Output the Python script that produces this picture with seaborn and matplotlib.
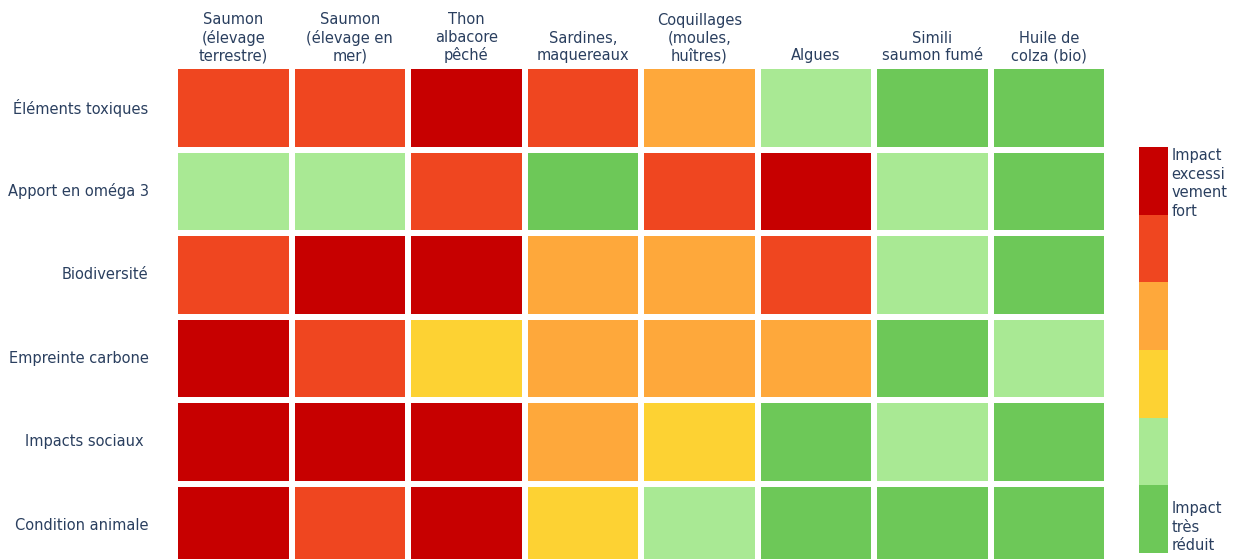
import numpy as np
import pandas as pd
import matplotlib
matplotlib.use('Agg')
import matplotlib.pyplot as plt
import seaborn as sns
from matplotlib.colors import ListedColormap, BoundaryNorm

# données (1 = impact très réduit ... 6 = excessivement fort)
produits = ['Saumon\n(élevage\nterrestre)', 'Saumon\n(élevage en\nmer)', 'Thon\nalbacore\npêché',
            'Sardines,\nmaquereaux', 'Coquillages\n(moules,\nhuîtres)', 'Algues',
            'Simili\nsaumon fumé', 'Huile de\ncolza (bio)']
criteres = ['Éléments toxiques', 'Apport en oméga 3', 'Biodiversité',
            'Empreinte carbone', 'Impacts sociaux ', 'Condition animale']

toxiques = [5, 5, 6, 5, 4, 2, 1, 1]
omega3 = [2, 2, 5, 1, 5, 6, 2, 1]
biodiversite = [5, 6, 6, 4, 4, 5, 2, 1]
carbone = [6, 5, 3, 4, 4, 4, 1, 2]
sociaux = [6, 6, 6, 4, 3, 1, 2, 1]
animale = [6, 5, 6, 3, 2, 1, 1, 1]

couleurs = ['#6dc858', '#a9e994', '#fdd233', '#fea83b', '#ef4620', '#c70000']
txt = '#2a3f5f'

df = pd.DataFrame([toxiques, omega3, biodiversite, carbone, sociaux, animale],
                  index=criteres, columns=produits)

cmap = ListedColormap(couleurs)
norm = BoundaryNorm(np.arange(0.5, 7.5, 1), cmap.N)

W, H = 1237, 559
fig = plt.figure(figsize=(W / 100, H / 100), dpi=100)
ax = fig.add_axes([175 / W, 1 - 567 / H, (1107 - 175) / W, (567 - 66) / H])
cax = fig.add_axes([1139 / W, 1 - 553 / H, 29 / W, (553 - 147) / H])

sns.heatmap(df, ax=ax, cmap=cmap, norm=norm, linewidths=3, linecolor='white',
            cbar_ax=cax)

ax.xaxis.tick_top()
ax.tick_params(length=0, labelsize=10.5, colors=txt, pad=2)
ax.set_xticklabels(produits, rotation=0, ha='center', va='bottom', color=txt, linespacing=1.2)
ax.set_yticklabels(criteres, rotation=0, color=txt)
ax.tick_params(axis='y', pad=19)
ax.set_xlabel('')
ax.set_ylabel('')

cbar = ax.collections[0].colorbar
cbar.outline.set_visible(False)
cbar.set_ticks([])
cbar.minorticks_off()
cax.text(1.12, 0.997, 'Impact\nexcessi\nvement\nfort', transform=cax.transAxes,
         ha='left', va='top', fontsize=10.5, color=txt, linespacing=1.3)
cax.text(1.12, 0.128, 'Impact\ntrès\nréduit', transform=cax.transAxes,
         ha='left', va='top', fontsize=10.5, color=txt, linespacing=1.3)

fig.savefig('out.png', dpi=100)
